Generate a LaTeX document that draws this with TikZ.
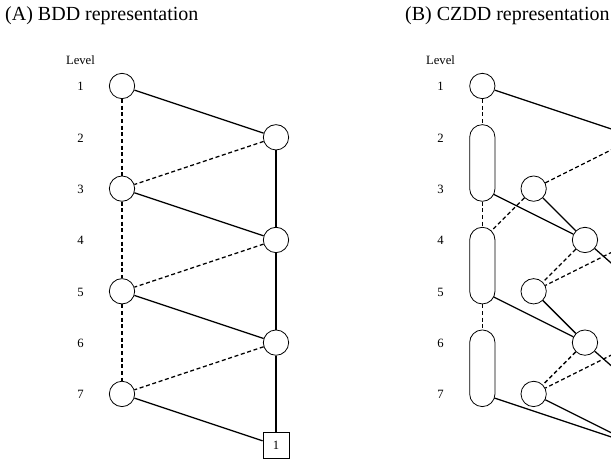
\documentclass[tikz,border=0pt]{standalone}
\usepackage{fontspec}
\setmainfont{Liberation Serif}
\usetikzlibrary{arrows,fit,positioning}
\tikzset{
    %Define style for decision nodes
    bdd/.style={
           circle,
           draw=black, line width=0.6pt,
           minimum size=19pt,
           inner sep=0pt},
    %invisible place holder inside a long node
    slot/.style={
           circle,
           minimum size=19pt,
           inner sep=0pt,
           outer sep=0pt},
    %Define style for the long czdd nodes
    zddpill/.style={
           rectangle,
           rounded corners=9.5pt,
           draw=black, line width=0.6pt,
           inner sep=0pt},
    sink/.style={
           rectangle,
           draw=black, line width=0.6pt,
           minimum size=19.5pt,
           inner sep=0pt,
           font=\fontsize{9.5}{11}\selectfont},
    lvl/.style={
           anchor=base,
           inner sep=0pt,
           font=\fontsize{9.5}{11}\selectfont},
    heading/.style={
           anchor=base west,
           inner sep=0pt,
           font=\fontsize{15}{18}\selectfont},
    % Define edge styles
    hiarc/.style={-, line width=0.95pt},
    loarc/.style={-, line width=0.95pt, dash pattern=on 3pt off 2pt}
}
\begin{document}
\begin{tikzpicture}[x=38.5pt,y=38.5pt,on grid,node distance=38.5pt]
\useasboundingbox (-2.377,-7.306) rectangle (9.527,1.675);

 %titles
\node[heading] (ta) at (-2.28,1.272) {(A) BDD representation};
\node[heading] (tb) at (5.513,1.272) {(B) CZDD representation};

 %levels (A)
\node[lvl] (la) at (-0.81,0.419) {Level};
\node[lvl] (la1) at (-0.81,-0.092) {1};
\node[lvl] (la2) at (-0.81,-1.092) {2};
\node[lvl] (la3) at (-0.81,-2.092) {3};
\node[lvl] (la4) at (-0.81,-3.092) {4};
\node[lvl] (la5) at (-0.81,-4.092) {5};
\node[lvl] (la6) at (-0.81,-5.092) {6};
\node[lvl] (la7) at (-0.81,-6.092) {7};

 %levels (B)
\node[lvl] (lb) at (6.205,0.419) {Level};
\node[lvl] (lb1) at (6.205,-0.092) {1};
\node[lvl] (lb2) at (6.205,-1.092) {2};
\node[lvl] (lb3) at (6.205,-2.092) {3};
\node[lvl] (lb4) at (6.205,-3.092) {4};
\node[lvl] (lb5) at (6.205,-4.092) {5};
\node[lvl] (lb6) at (6.205,-5.092) {6};
\node[lvl] (lb7) at (6.205,-6.092) {7};

 %nodes (A)
\node[bdd] (a1) at (0,0) {};
\node[bdd, below=77pt of a1] (a3) {};
\node[bdd, below=77pt of a3] (a5) {};
\node[bdd, below=77pt of a5] (a7) {};
\node[bdd, below right=38.5pt and 115.5pt of a1] (b2) {};
\node[bdd, below=77pt of b2] (b4) {};
\node[bdd, below=77pt of b4] (b6) {};
\node[sink, below=77pt of b6] (s1) {1};

 %nodes (B)
\node[bdd] (n1) at (7.02,0) {};
\node[slot, below=of n1] (c2) {};
\node[slot, below=of c2] (c3) {};
\node[slot, below=of c3] (c4) {};
\node[slot, below=of c4] (c5) {};
\node[slot, below=of c5] (c6) {};
\node[slot, below=of c6] (c7) {};
\node[zddpill, fit=(c2)(c3)] (z23) {};
\node[zddpill, fit=(c4)(c5)] (z45) {};
\node[zddpill, fit=(c6)(c7)] (z67) {};
\node[bdd, right=of c3] (m3) {};
\node[bdd, right=77pt of c4] (m4) {};
\node[bdd, right=of c5] (m5) {};
\node[bdd, right=77pt of c6] (m6) {};
\node[bdd, right=of c7] (m7) {};
\coordinate[right=115.5pt of c2] (r2);
\coordinate[right=115.5pt of c4] (r4);
\coordinate[right=115.5pt of c6] (r6);
\coordinate[below right=38.5pt and 115.5pt of c7] (s2);
\coordinate[below right=38.5pt and 43.7pt of m4] (h5);
\coordinate[below right=38.5pt and 43.7pt of m6] (h7);

 %edges (A)
\path (a1) edge[loarc] (a3)
           edge[hiarc] (b2)
      (b2) edge[loarc] (a3)
           edge[hiarc] (b4)
      (a3) edge[loarc] (a5)
           edge[hiarc] (b4)
      (b4) edge[loarc] (a5)
           edge[hiarc] (b6)
      (a5) edge[loarc] (a7)
           edge[hiarc] (b6)
      (b6) edge[loarc] (a7)
           edge[hiarc] (s1)
      (a7) edge[hiarc] (s1);

 %edges (B)
\path (n1) edge[loarc] (z23)
           edge[hiarc] (r2)
      (z23) edge[loarc] (z45)
      (z45) edge[loarc] (z67)
      (m3) edge[loarc] (r2)
           edge[hiarc] (m4)
           edge[loarc] (c4)
      (c3) edge[hiarc] (m4)
      (m4) edge[loarc] (m5)
           edge[hiarc] (h5)
      (r4) edge[loarc] (m5)
      (m5) edge[hiarc] (m6)
      (c5) edge[hiarc] (m6)
      (m6) edge[loarc] (m7)
           edge[hiarc] (h7)
      (r6) edge[loarc] (m7)
      (m7) edge[hiarc] (s2)
      (c7) edge[hiarc] (s2);

\end{tikzpicture}
\end{document}
